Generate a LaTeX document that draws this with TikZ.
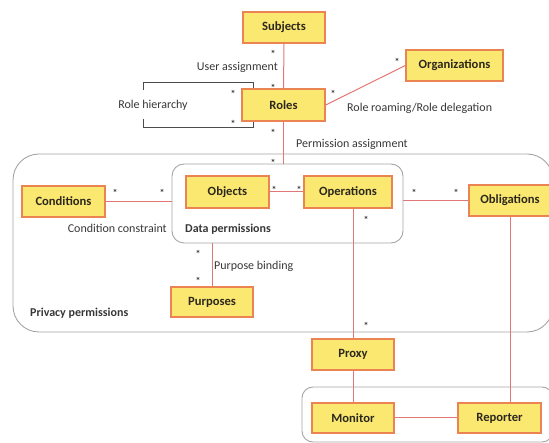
\documentclass[tikz,border=0pt]{standalone}
\usepackage{fontspec}
\setmainfont{Carlito}
\definecolor{boxfill}{RGB}{250,232,112}
\definecolor{boxdraw}{RGB}{234,132,82}
\definecolor{linkred}{RGB}{224,118,118}
\definecolor{contgray}{RGB}{165,165,165}
\definecolor{txtdark}{RGB}{45,40,30}
\definecolor{lbldark}{RGB}{55,55,55}
\tikzset{
  ent/.style={draw=boxdraw, fill=boxfill, line width=1.3pt, minimum height=31pt, inner sep=0pt, font=\fontsize{12.6}{14}\selectfont\bfseries, text=txtdark},
  container/.style={draw=contgray, line width=0.9pt, inner sep=0pt},
  link/.style={draw=linkred, line width=1pt},
  lbl/.style={inner sep=0pt, font=\fontsize{12}{14}\selectfont, text=lbldark},
  blbl/.style={inner sep=0pt, font=\fontsize{12}{14}\selectfont\bfseries, text=lbldark},
  mult/.style={inner sep=0pt, anchor=base, yshift=-4.6pt, font=\fontsize{10}{11}\selectfont\bfseries, text=lbldark},
  hier/.style={draw=black!70, line width=0.8pt}
}
\begin{document}
\begin{tikzpicture}[x=1pt,y=-1pt]
\useasboundingbox (0,0) rectangle (549,443);
\clip (0,0) rectangle (549,443);
% containers
\node[container, rounded corners=26pt, minimum width=540pt, minimum height=178pt] (privacy) at (283,243) {};
\node[container, rounded corners=12pt, minimum width=231pt, minimum height=79pt] (datap) at (287.5,203.5) {};
\node[container, rounded corners=11pt, minimum width=251pt, minimum height=55pt] (monbox) at (427.5,414.5) {};
% entities
\node[ent, minimum width=82pt] (subjects) at (284,27.5) {Subjects};
\node[ent, minimum width=83pt, minimum height=32pt] (roles) at (283.5,105) {Roles};
\node[ent, minimum width=97pt] (org) at (454.5,65.5) {Organizations};
\node[ent, minimum width=83pt] (conditions) at (63.5,201.5) {Conditions};
\node[ent, minimum width=83pt, minimum height=32pt] (objects) at (227.5,192) {Objects};
\node[ent, minimum width=88pt, minimum height=32pt] (operations) at (348,192) {Operations};
\node[ent, minimum width=82pt] (obligations) at (510,200.5) {Obligations};
\node[ent, minimum width=82pt, minimum height=30pt] (purposes) at (212,302) {Purposes};
\node[ent, minimum width=82pt] (proxy) at (353,354.5) {Proxy};
\node[ent, minimum width=82pt, minimum height=30pt] (monitor) at (353,418) {Monitor};
\node[ent, minimum width=83pt, minimum height=30pt] (reporter) at (499.5,418) {Reporter};
% connectors
\draw[link] (subjects.south) -- (roles.north);
\draw[link] (roles.east) -- (org.west);
\draw[link] (roles.south) -- (roles.south |- datap.north);
\draw[link] (conditions.east) -- (conditions.east -| datap.west);
\draw[link] (objects.east) -- (operations.west);
\draw[link] (obligations.west) -- (obligations.west -| datap.east);
\draw[link] (purposes.north) -- (purposes.north |- datap.south);
\draw[link] (operations.south -| proxy.north) -- (proxy.north);
\draw[link] (proxy.south) -- (monitor.north);
\draw[link] (monitor.east) -- (reporter.west);
\draw[link] (obligations.south) -- (obligations.south |- reporter.north);
% role hierarchy bracket
\coordinate (rhtop) at (253,82);
\coordinate (rhbot) at (253,127);
\draw[hier] (143,90) -- (143,82) -- (rhtop) -- (rhtop |- roles.north);
\draw[hier] (143,119) -- (143,127) -- (rhbot) -- (rhbot |- roles.south);
% labels
\node[lbl, anchor=east] (ua) at (278,67) {User assignment};
\node[lbl] (rh) at (153,105) {Role hierarchy};
\node[lbl, anchor=west] (rr) at (347,108) {Role roaming/Role delegation};
\node[lbl, anchor=west] (pa) at (296,144) {Permission assignment};
\node[lbl, anchor=east] (cc) at (167,228) {Condition constraint};
\node[blbl, anchor=west] (dp) at (185,229) {Data permissions};
\node[lbl, anchor=west] (pb) at (214,266) {Purpose binding};
\node[blbl, anchor=west] (pp) at (30,313) {Privacy permissions};
% multiplicities
\node[mult] (m1) at (273,53) {*};
\node[mult] (m2) at (273,87) {*};
\node[mult] (m3) at (233,93) {*};
\node[mult] (m4) at (233,123) {*};
\node[mult] (m5) at (333,93) {*};
\node[mult] (m6) at (397,61) {*};
\node[mult] (m7) at (273,132) {*};
\node[mult] (m8) at (273,162) {*};
\node[mult] (m9) at (115,192) {*};
\node[mult] (m10) at (162,192) {*};
\node[mult] (m11) at (274,189) {*};
\node[mult] (m12) at (299,189) {*};
\node[mult] (m13) at (414,192) {*};
\node[mult] (m14) at (456,192) {*};
\node[mult] (m15) at (366,219) {*};
\node[mult] (m16) at (198,253) {*};
\node[mult] (m17) at (198,280) {*};
\node[mult] (m18) at (366,325) {*};
\end{tikzpicture}
\end{document}
